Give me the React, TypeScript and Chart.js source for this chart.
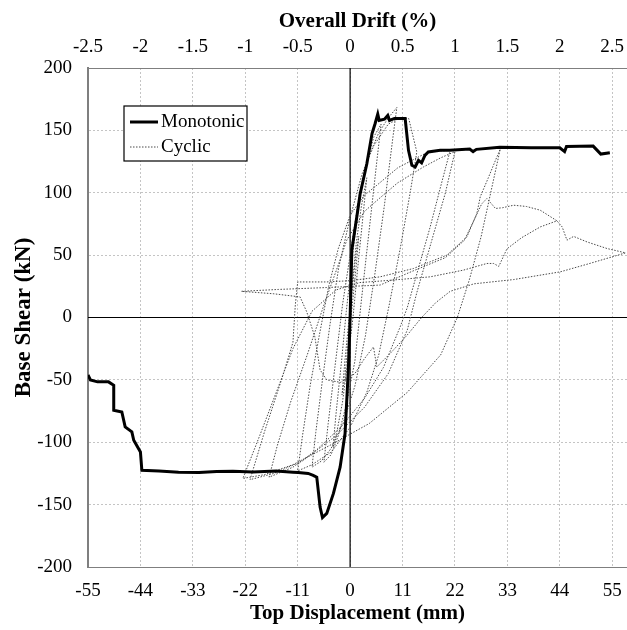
import React, { useEffect, useRef } from "react";
import { Chart, registerables } from "chart.js";

Chart.register(...registerables);

// ---- data ----
const displacementTicks = [-55, -44, -33, -22, -11, 0, 11, 22, 33, 44, 55];
const driftTicks = [-2.5, -2, -1.5, -1, -0.5, 0, 0.5, 1, 1.5, 2, 2.5];
const shearTicks = [-200, -150, -100, -50, 0, 50, 100, 150, 200];
const displacementMin = -55;
const displacementMax = 58.1;
const mmPerPercentDrift = 22;

// Monotonic (displacement mm, base shear kN)
const monotonicPoints: [number, number][] = [
  [-55, -46], [-54.5, -50], [-53, -51.6], [-50.7, -51.6], [-49.6, -54.3], [-49.6, -74.3],
  [-47.9, -75.7], [-47.2, -87.7], [-45.8, -91.7], [-45.4, -98.4], [-44, -107.8], [-43.7, -122.5],
  [-40.1, -123], [-36, -124], [-31.7, -124.3], [-28, -123.5], [-24.6, -123.3], [-20.4, -123.8],
  [-15.5, -123], [-12, -124], [-10.9, -124.3], [-8.8, -125], [-7.75, -126.5], [-7, -128],
  [-6.3, -152], [-5.8, -160.4], [-4.9, -157], [-3.5, -141], [-2.1, -120], [-1.06, -93],
  [-0.35, -40], [0, 0], [0.36, 54], [1.4, 80.6], [2.1, 99], [3.5, 123], [4.6, 147.5],
  [5.25, 155.5], [5.8, 163], [6.1, 158], [7.2, 159], [7.9, 162], [8.27, 158], [9.3, 159.6],
  [11.55, 159.5], [12.25, 134], [12.96, 122], [13.65, 120.7], [14.35, 126], [15, 124],
  [15.7, 130], [16.4, 132.7], [18.9, 134], [20.9, 134], [25.1, 135], [25.8, 133], [26.5, 134.8],
  [31.4, 136.4], [38, 136], [44, 136], [45, 133], [45.4, 137], [51, 137.4], [52.6, 131], [54.5, 132],
];

// Cyclic (displacement mm, base shear kN)
const cyclicPoints: [number, number][] = [
  [0, 0],
  [0.5, 25], [1.2, 50], [1.8, 65], [1.2, 38], [0.4, 8], [-0.4, -20], [-1.1, -48], [-1.7, -62], [-1.1, -35], [-0.4, -8],
  [0.4, 25], [1.3, 60], [2.4, 90], [3.5, 112], [2.8, 85], [1.6, 40], [0.6, 0], [-0.5, -35], [-1.6, -68], [-2.8, -92],
  [-3.6, -104], [-2.9, -75], [-1.8, -35], [-0.8, 5],
  [0.5, 50], [2, 95], [3.5, 125], [5, 145], [6.5, 155], [5.6, 125], [4, 70], [2.4, 15], [1, -35], [-0.8, -70],
  [-2.5, -95], [-4, -110], [-5.5, -116], [-4.6, -85], [-3.2, -40], [-1.6, 10],
  [0.2, 55], [2, 100], [4, 130], [6, 148], [8, 160], [9.8, 168.3], [9, 145], [7.2, 90], [5.2, 35], [3.2, -15],
  [1, -55], [-1.5, -85], [-4, -105], [-6, -115], [-8, -120], [-7.2, -92], [-5.8, -50], [-4.2, -5], [-2.4, 40],
  [0, 80], [2.5, 115], [5, 138], [8, 155], [10.5, 160], [12.3, 159.5], [14, 132.7], [12.6, 100], [10.5, 55],
  [8.2, 10], [6, -30], [3.5, -60], [0, -88], [-4, -108], [-8, -118], [-11, -123], [-10, -95], [-8.4, -55],
  [-6.5, -15], [-4.5, 25], [-2.5, 55],
  [0, 82], [3, 98], [5.6, 106], [10, 120], [14, 128], [16.4, 132.7], [21, 134], [19, 105], [16.8, 72.6], [14, 35],
  [12, 8], [10.5, -7.5], [7, -40], [3, -65], [-2, -88], [-7, -106], [-12, -120], [-17, -128], [-15.3, -103],
  [-12.5, -68], [-9, -30], [-5.5, 10], [-2.5, 42], [-0.7, 62], [3, 85], [6.3, 96], [10, 108], [15.4, 120.7], [19, 128], [22, 133],
  [20, 100], [17, 60], [14, 20], [12, -10], [8, -45], [3, -72], [-3, -95], [-10, -115], [-16, -125], [-21, -130],
  [-18, -92], [-14.4, -50], [-12, -20], [-11.5, 10], [-11, 28.5], [-5, 28.5], [0, 29.5], [6.3, 32.6], [13.3, 39.3],
  [20.3, 50], [24.5, 64.6], [26.6, 83.4], [27.3, 96.7], [29, 112], [30.5, 126], [31.5, 135],
  [29.5, 100], [27.5, 65], [25, 30], [22.5, 0], [19, -30], [12, -60], [4, -85], [-4, -102], [-12, -118],
  [-18, -126], [-22.5, -129],
  [-19, -95], [-15.5, -60], [-12, -25], [-8, 5], [-3, 22], [2, 28], [6.3, 29.2], [12, 31], [16.8, 32.6],
  [23.8, 38], [28.7, 43.3], [30.1, 43.3], [31.2, 41], [32.9, 55], [36, 64], [39.9, 72.6], [43.4, 77.5],
  [39.9, 86], [37, 89], [34.3, 90], [32, 88], [30.5, 87.4], [28.7, 95.4], [27.6, 91], [26, 78], [24, 62],
  [20, 48], [13, 37], [6.3, 26], [-5, 24], [-15, 22.5], [-22.8, 21],
  [-16, 19], [-10.5, 16.5], [-9.1, 4.5], [-7.4, -15.5], [-6.3, -42], [-4.9, -50], [-2, -52], [1, -45], [3, -33],
  [4.9, -23.6], [5.6, -39.6], [7.7, -31.6], [9.1, -26], [12, -14], [15, 0], [18, 12], [21, 21], [26, 27],
  [34.3, 30.4], [44.1, 36.6], [50, 43], [57.8, 51.8],
  [53.9, 55.3], [49.7, 60.6], [46.9, 65], [45.5, 62], [44.5, 72.6], [43.4, 77.5],
];

const FONT = "'Liberation Serif', 'Times New Roman', serif";

const overlayPlugin = {
  id: "overlay",
  beforeDatasetsDraw(chart: any) {
    const { ctx, chartArea: a, scales } = chart;
    const x0 = scales.x.getPixelForValue(0);
    const y0 = scales.y.getPixelForValue(0);
    ctx.save();
    ctx.strokeStyle = "#000";
    ctx.lineWidth = 1.2;
    ctx.beginPath();
    ctx.moveTo(x0, a.top);
    ctx.lineTo(x0, a.bottom);
    ctx.moveTo(a.left, y0);
    ctx.lineTo(a.right, y0);
    ctx.stroke();
    ctx.restore();
  },
  afterDatasetsDraw(chart: any) {
    const { ctx } = chart;
    const bx = 124, by = 106, bw = 123, bh = 55;
    ctx.save();
    ctx.fillStyle = "#fff";
    ctx.fillRect(bx, by, bw, bh);
    ctx.strokeStyle = "#000";
    ctx.lineWidth = 1.2;
    ctx.strokeRect(bx, by, bw, bh);
    const ds = chart.data.datasets;
    const rows = [by + 16, by + 41];
    ctx.font = `19px ${FONT}`;
    ctx.textBaseline = "middle";
    ctx.fillStyle = "#000";
    ds.forEach((d: any, i: number) => {
      ctx.beginPath();
      ctx.strokeStyle = d.borderColor;
      ctx.lineWidth = d.borderWidth;
      ctx.setLineDash(d.borderDash || []);
      ctx.moveTo(bx + 6, rows[i]);
      ctx.lineTo(bx + 34, rows[i]);
      ctx.stroke();
      ctx.setLineDash([]);
      ctx.fillText(d.label, bx + 37, rows[i]);
    });
    ctx.restore();
  },
};

export default function App() {
  const ref = useRef<HTMLCanvasElement | null>(null);

  useEffect(() => {
    if (!ref.current) return;
    const tickFont = { family: FONT, size: 19 };
    const titleFont = { family: FONT, size: 21, weight: "bold" as const };
    const chart = new Chart(ref.current, {
      type: "scatter",
      data: {
        datasets: [
          {
            label: "Monotonic",
            data: monotonicPoints.map(([x, y]) => ({ x, y })),
            showLine: true,
            borderColor: "#000",
            borderWidth: 3,
            pointRadius: 0,
            tension: 0,
            xAxisID: "x",
            yAxisID: "y",
          },
          {
            label: "Cyclic",
            data: cyclicPoints.map(([x, y]) => ({ x, y })),
            showLine: true,
            borderColor: "#4a4a4a",
            borderWidth: 1,
            borderDash: [1.5, 1.5],
            pointRadius: 0,
            tension: 0,
            xAxisID: "x",
            yAxisID: "y",
          },
        ],
      },
      options: {
        animation: false,
        responsive: false,
        devicePixelRatio: 1,
        layout: { padding: 0 },
        plugins: { legend: { display: false }, tooltip: { enabled: false } },
        scales: {
          x: {
            type: "linear",
            position: "bottom",
            min: displacementMin,
            max: displacementMax,
            afterBuildTicks: (s: any) => {
              s.ticks = displacementTicks.map((v) => ({ value: v }));
            },
            afterFit: (s: any) => {
              s.height = 63;
              s.paddingLeft = 0;
              s.paddingRight = 0;
            },
            grid: { color: "#c4c4c4", lineWidth: 1, drawTicks: false },
            border: { display: true, color: "#7f7f7f", width: 1, dash: [2, 2] },
            ticks: { font: tickFont, color: "#000", padding: 13, callback: (v: any) => String(v) },
            title: { display: true, text: "Top Displacement (mm)", font: titleFont, color: "#000", padding: { top: 0, bottom: 4 } },
          },
          x2: {
            type: "linear",
            position: "top",
            min: displacementMin / mmPerPercentDrift,
            max: displacementMax / mmPerPercentDrift,
            afterBuildTicks: (s: any) => {
              s.ticks = driftTicks.map((v) => ({ value: v }));
            },
            afterFit: (s: any) => {
              s.height = 68;
              s.paddingLeft = 0;
              s.paddingRight = 0;
            },
            grid: { display: false, drawTicks: false },
            border: { display: true, color: "#7f7f7f", width: 1 },
            ticks: { font: tickFont, color: "#000", padding: 10, callback: (v: any) => String(v) },
            title: { display: true, text: "Overall Drift (%)", font: titleFont, color: "#000", padding: { top: 9, bottom: 0 } },
          },
          y: {
            type: "linear",
            position: "left",
            min: -200,
            max: 200,
            afterBuildTicks: (s: any) => {
              s.ticks = shearTicks.map((v) => ({ value: v }));
            },
            afterFit: (s: any) => {
              s.width = 88;
              s.paddingTop = 0;
              s.paddingBottom = 0;
            },
            grid: { color: "#c4c4c4", lineWidth: 1, drawTicks: false },
            border: { display: true, color: "#7f7f7f", width: 2, dash: [2, 2] },
            ticks: { font: tickFont, color: "#000", padding: 16, callback: (v: any) => String(v) },
            title: { display: true, text: "Base Shear (kN)", font: { ...titleFont, size: 23 }, color: "#000", padding: { top: 10, bottom: 0 } },
          },
        },
      },
      plugins: [overlayPlugin],
    });
    return () => chart.destroy();
  }, []);

  return (
    <div style={{ position: "absolute", left: 0, top: 0, width: 627, height: 630, background: "#fff" }}>
      <canvas ref={ref} width={627} height={630} style={{ display: "block", width: 627, height: 630 }} />
    </div>
  );
}
